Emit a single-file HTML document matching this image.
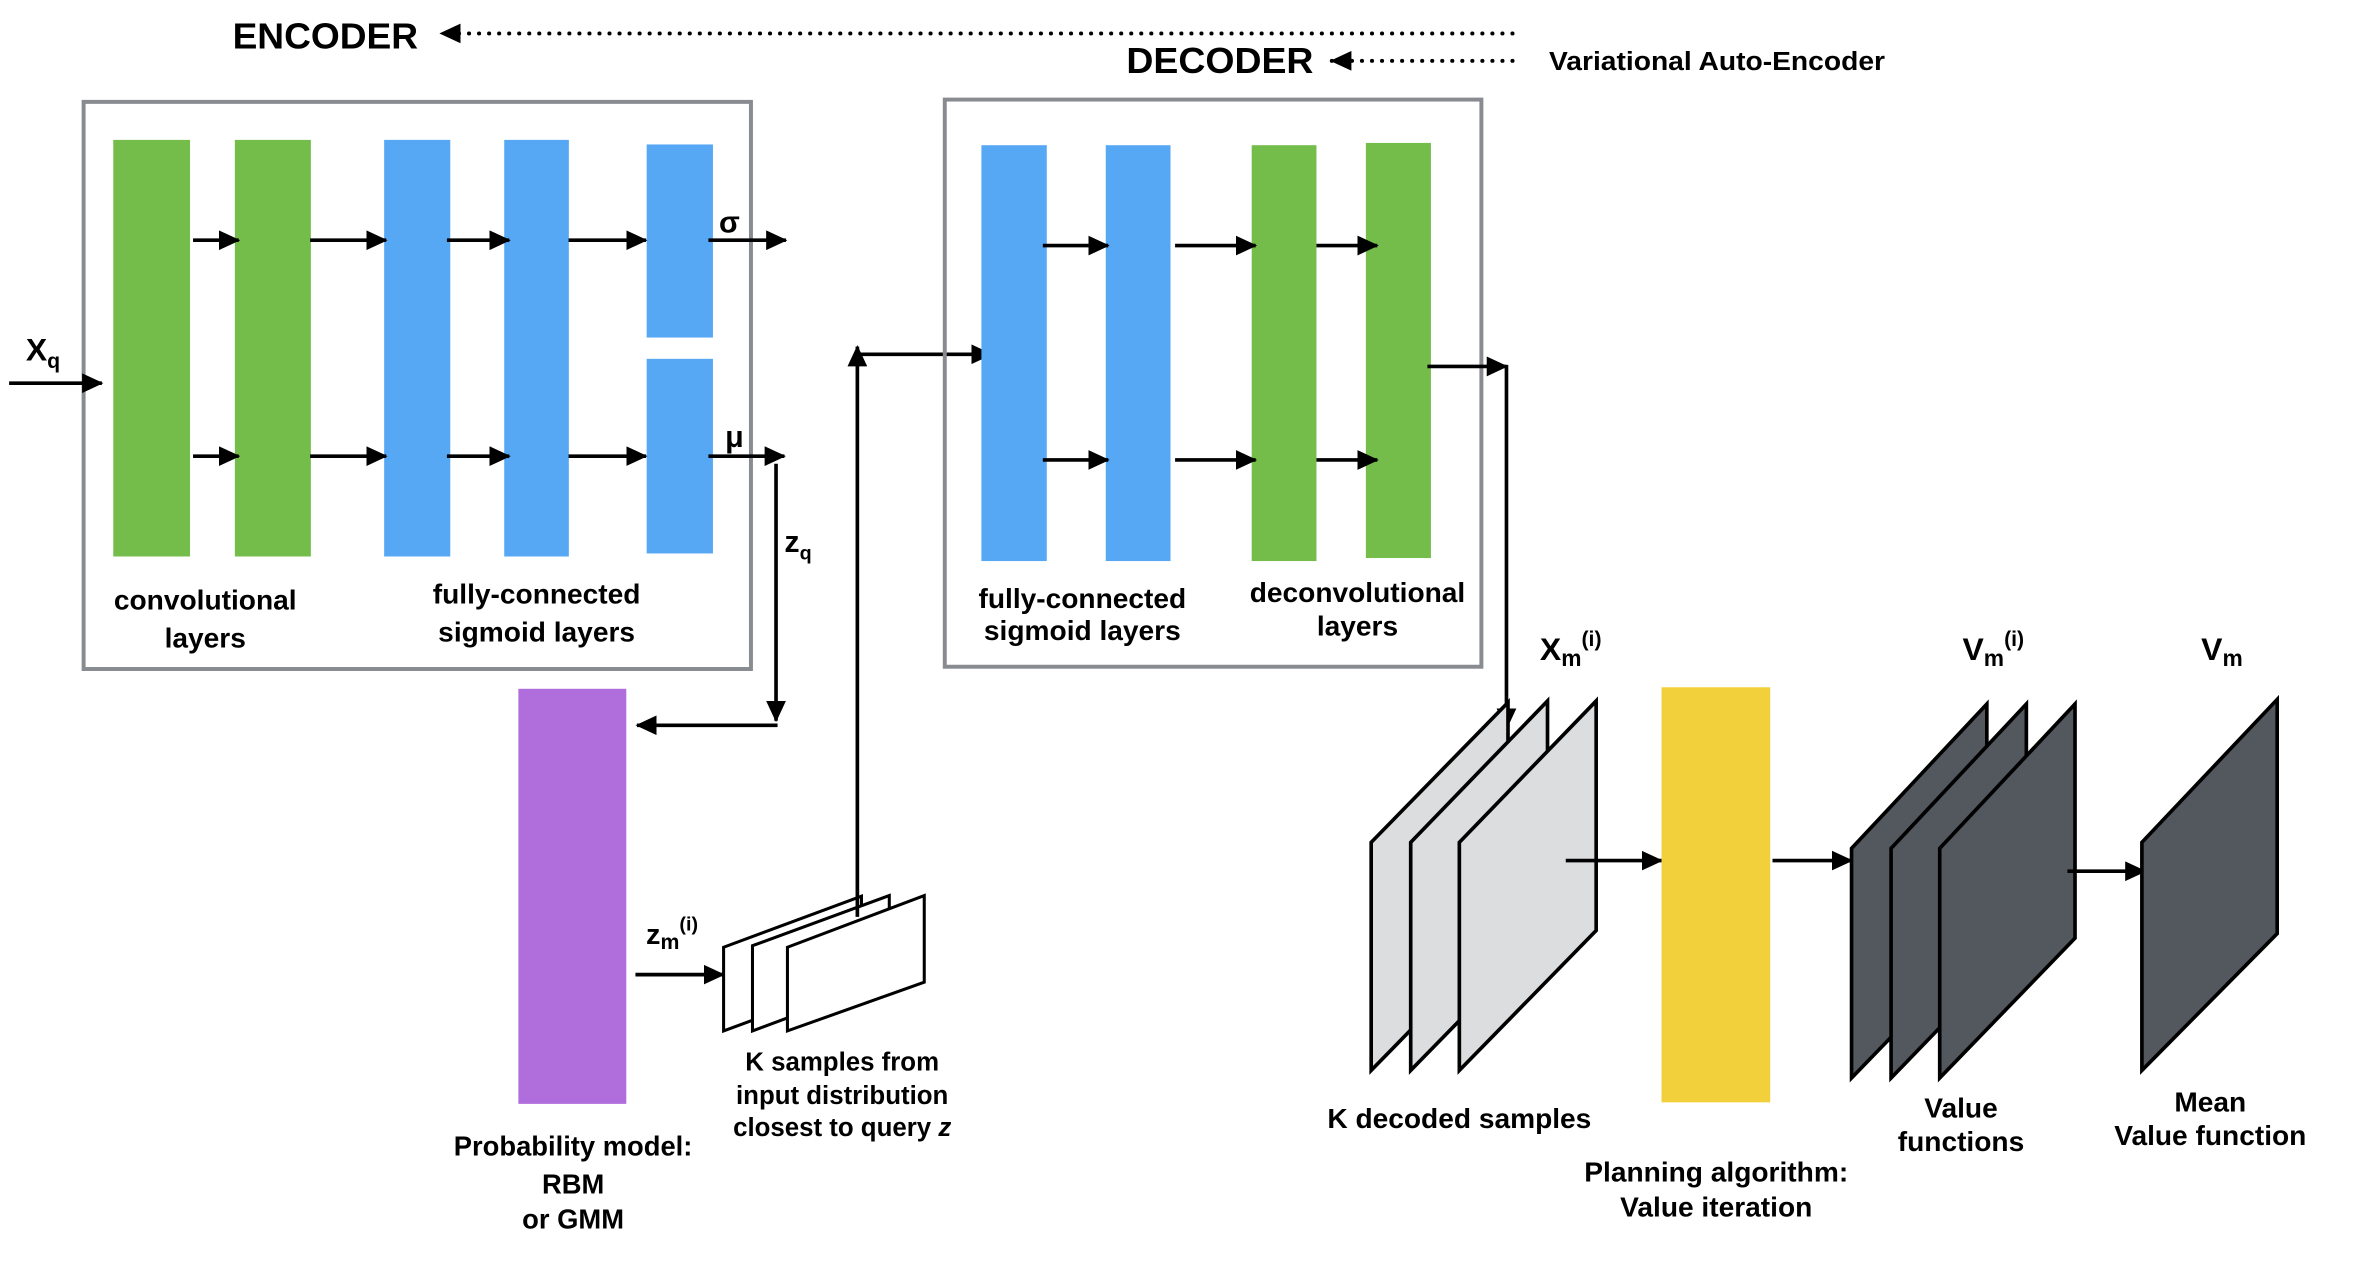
<!DOCTYPE html>
<html><head><meta charset="utf-8"><style>html,body{margin:0;padding:0;background:#fff}svg{display:block}</style></head>
<body>
<svg xmlns="http://www.w3.org/2000/svg" width="2376" height="1262" viewBox="0 0 1563 830" preserveAspectRatio="none" font-family="'Liberation Sans', sans-serif" font-weight="bold">
<defs>
<marker id="a" markerWidth="14" markerHeight="13" refX="13" refY="6.5" orient="auto" markerUnits="userSpaceOnUse"><path d="M0,0 L14,6.5 L0,13 z" fill="#000"/></marker>
<marker id="d" markerWidth="14" markerHeight="13" refX="13" refY="6.5" orient="auto" markerUnits="userSpaceOnUse"><path d="M0,0 L14,6.5 L0,13 z" fill="#000"/></marker>
</defs>
<rect width="1563" height="830" fill="#fff"/>
<text x="153" y="32" font-size="24" textLength="122" lengthAdjust="spacingAndGlyphs">ENCODER</text>
<line x1="995" y1="22" x2="290" y2="22" stroke="#000" stroke-width="2.6" stroke-dasharray="0.1 6.5" stroke-linecap="round" marker-end="url(#d)"/>
<text x="741" y="48" font-size="24" textLength="123" lengthAdjust="spacingAndGlyphs">DECODER</text>
<line x1="995" y1="40" x2="876" y2="40" stroke="#000" stroke-width="2.6" stroke-dasharray="0.1 6.5" stroke-linecap="round" marker-end="url(#d)"/>
<text x="1019" y="46" font-size="17" textLength="221" lengthAdjust="spacingAndGlyphs">Variational Auto-Encoder</text>
<rect x="55" y="67" width="439" height="373" fill="none" stroke="#888b8f" stroke-width="2.6"/>
<g>
<rect x="74.5" y="92" width="50.5" height="274" fill="#74bd4a"/>
<rect x="154.5" y="92" width="50" height="274" fill="#74bd4a"/>
<rect x="252.7" y="92" width="43.5" height="274" fill="#56a8f5"/>
<rect x="331.7" y="92" width="42.5" height="274" fill="#56a8f5"/>
<rect x="425.4" y="95" width="43.6" height="127" fill="#56a8f5"/>
<rect x="425.4" y="236" width="43.6" height="128" fill="#56a8f5"/>
</g>
<g stroke="#000" stroke-width="2.4" marker-end="url(#a)">
<line x1="127" y1="158" x2="157" y2="158"/><line x1="204" y1="158" x2="254" y2="158"/><line x1="294" y1="158" x2="335" y2="158"/><line x1="374" y1="158" x2="425" y2="158"/><line x1="466" y1="158" x2="517" y2="158"/>
<line x1="127" y1="300" x2="157" y2="300"/><line x1="204" y1="300" x2="254" y2="300"/><line x1="294" y1="300" x2="335" y2="300"/><line x1="374" y1="300" x2="425" y2="300"/><line x1="466" y1="300" x2="516" y2="300"/>
<line x1="6" y1="252" x2="67" y2="252"/>
</g>
<text x="17" y="237" font-size="21">X<tspan font-size="14" dy="5">q</tspan></text>
<text x="473" y="153" font-size="20">σ</text>
<text x="477" y="294" font-size="20">μ</text>
<g font-size="18.5" text-anchor="middle">
<text x="135" y="401">convolutional</text><text x="135" y="426">layers</text>
<text x="353" y="397">fully-connected</text><text x="353" y="422">sigmoid layers</text>
</g>
<line x1="510.5" y1="305" x2="510.5" y2="474" stroke="#000" stroke-width="2.4" marker-end="url(#a)"/>
<line x1="511.5" y1="477" x2="419" y2="477" stroke="#000" stroke-width="2.4" marker-end="url(#a)"/>
<text x="516" y="363" font-size="20">z<tspan font-size="13" dy="5">q</tspan></text>
<rect x="341" y="453" width="71" height="273" fill="#b06edc"/>
<g font-size="18" text-anchor="middle">
<text x="377" y="760">Probability model:</text><text x="377" y="785">RBM</text><text x="377" y="808">or GMM</text>
</g>
<text x="425" y="621" font-size="19">z<tspan font-size="14" dy="3">m</tspan><tspan font-size="13" dy="-12">(i)</tspan></text>
<line x1="418" y1="641" x2="476" y2="641" stroke="#000" stroke-width="2.4" marker-end="url(#a)"/>
<g fill="#fff" stroke="#000" stroke-width="2">
<path d="M476,623 L566.7,589.4 L566.7,644.6 L476,678 z"/>
<path d="M495,622 L585,589 L585,644.6 L495,678 z"/>
<path d="M518,623 L608,589 L608,646 L518,678 z"/>
</g>
<g font-size="17" text-anchor="middle">
<text x="554" y="704">K samples from</text><text x="554" y="726">input distribution</text><text x="554" y="747">closest to query <tspan font-style="italic">z</tspan></text>
</g>
<line x1="564" y1="603" x2="564" y2="228" stroke="#000" stroke-width="2.4" marker-end="url(#a)"/>
<line x1="563" y1="233" x2="652" y2="233" stroke="#000" stroke-width="2.4" marker-end="url(#a)"/>
<rect x="621.5" y="65.5" width="353" height="373" fill="none" stroke="#888b8f" stroke-width="2.6"/>
<rect x="645.6" y="95.5" width="43" height="273.5" fill="#56a8f5"/>
<rect x="727.4" y="95.5" width="42.6" height="273.5" fill="#56a8f5"/>
<rect x="823.4" y="95.5" width="42.6" height="273.5" fill="#74bd4a"/>
<rect x="898.5" y="94" width="42.8" height="273" fill="#74bd4a"/>
<g stroke="#000" stroke-width="2.4" marker-end="url(#a)">
<line x1="686" y1="161.5" x2="729" y2="161.5"/><line x1="773" y1="161.5" x2="826" y2="161.5"/><line x1="866" y1="161.5" x2="906" y2="161.5"/>
<line x1="686" y1="302.5" x2="729" y2="302.5"/><line x1="773" y1="302.5" x2="826" y2="302.5"/><line x1="866" y1="302.5" x2="906" y2="302.5"/>
<line x1="939" y1="241" x2="991" y2="241"/>
<line x1="991" y1="240" x2="991" y2="479"/>
</g>
<g font-size="18.5" text-anchor="middle">
<text x="712" y="400">fully-connected</text><text x="712" y="421">sigmoid layers</text>
<text x="893" y="396">deconvolutional</text><text x="893" y="418">layers</text>
</g>
<text x="1013" y="434" font-size="21">X<tspan font-size="15" dy="4">m</tspan><tspan font-size="14" dy="-13">(i)</tspan></text>
<g fill="#dcdddf" stroke="#000" stroke-width="2.4">
<path d="M902,554 L992,462 L992,612 L902,704 z"/>
<path d="M928,554 L1018,461 L1018,612 L928,704 z"/>
<path d="M960,554 L1050,461 L1050,612 L960,704 z"/>
</g>
<line x1="1030" y1="566" x2="1093" y2="566" stroke="#000" stroke-width="2.4" marker-end="url(#a)"/>
<rect x="1093" y="452" width="71.5" height="273" fill="#f2d03b"/>
<line x1="1166" y1="566" x2="1218" y2="566" stroke="#000" stroke-width="2.4" marker-end="url(#a)"/>
<g fill="#53575e" stroke="#000" stroke-width="2.4">
<path d="M1218,558 L1307,463 L1307,617 L1218,709 z"/>
<path d="M1244,558 L1333,463 L1333,617 L1244,709 z"/>
<path d="M1276,558 L1365,463 L1365,617 L1276,709 z"/>
</g>
<line x1="1360" y1="573" x2="1411" y2="573" stroke="#000" stroke-width="2.4" marker-end="url(#a)"/>
<path d="M1409,554 L1498,460 L1498,614 L1409,704 z" fill="#53575e" stroke="#000" stroke-width="2.4"/>
<text x="1291" y="434" font-size="21">V<tspan font-size="15" dy="4">m</tspan><tspan font-size="14" dy="-13">(i)</tspan></text>
<text x="1448" y="434" font-size="21">V<tspan font-size="15" dy="4">m</tspan></text>
<g font-size="18.5" text-anchor="middle">
<text x="960" y="742">K decoded samples</text>
<text x="1129" y="777">Planning algorithm:</text><text x="1129" y="800">Value iteration</text>
<text x="1290" y="735">Value</text><text x="1290" y="757">functions</text>
<text x="1454" y="731">Mean</text><text x="1454" y="753">Value function</text>
</g>
</svg>
</body></html>
